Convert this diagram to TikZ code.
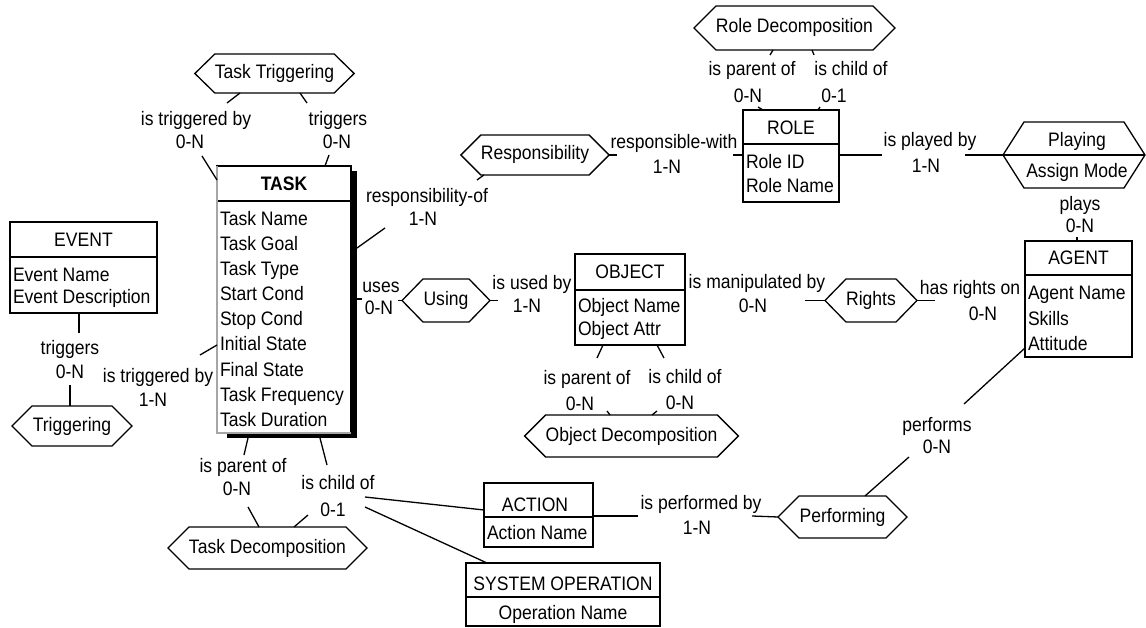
\documentclass[tikz,border=0pt]{standalone}
\usepackage{fontspec}
\setmainfont{Liberation Sans}[FakeStretch=0.9]
\usetikzlibrary{calc}

% entity box: name, centre x, centre y, width, height, y of header rule
\newcommand\entitybox[6]{%
  \node[ebox, minimum width=#4pt, minimum height=#5pt] (#1) at (#2,#3) {};
  \draw[boxline] (#1.west |- 0,#6) -- (#1.east |- 0,#6);}

% relationship hexagon: name, centre x, centre y, inner width, height, tip, text
\newcommand\relhex[7]{%
  \node[hexnode, minimum width=#4pt, minimum height=#5pt] (#1) at (#2,#3) {#7};
  \draw[boxline] (#1.north west) -- (#1.north east) -- ([xshift=#6pt]#1.east)
    -- (#1.south east) -- (#1.south west) -- ([xshift=-#6pt]#1.west) -- cycle;}

\begin{document}
\begin{tikzpicture}[x=1pt,y=-1pt,
  every node/.style={font=\fontsize{19.5}{23}\selectfont, inner sep=0pt, outer sep=0pt},
  boxline/.style={line width=1.3pt},
  conn/.style={line width=1.3pt},
  ebox/.style={draw, line width=1.3pt, fill=white},
  hexnode/.style={text height=13.5pt, text depth=3.5pt},
  hdr/.style={anchor=base},
  attr/.style={anchor=base west},
  lbl/.style={anchor=base},
]
\fill[white] (0,0) rectangle (1146,628);
\useasboundingbox (0,0) rectangle (1146,628);

% ---------------- entities ----------------
\node[fill=black, minimum width=130pt, minimum height=267pt] (taskshadow) at (292,304.5) {};
\entitybox{task}{284}{299.5}{134}{267}{201}
\draw[boxline, black!35] (task.north west) -- (task.south west) -- (task.south east);
\node[hdr, font=\fontsize{19.5}{23}\selectfont\bfseries] (taskh) at (284,191) {TASK};
\foreach \t [count=\i] in {Task Name, Task Goal, Task Type, Start Cond, Stop Cond,
    Initial State, Final State, Task Frequency, Task Duration}
  \node[attr] (task-\i) at (220,{201+25*\i}) {\t};

\entitybox{event}{83.5}{267.5}{147}{91}{257}
\node[hdr] (eventh) at (83.5,247) {EVENT};
\node[attr] (event-1) at (13,282) {Event Name};
\node[attr] (event-2) at (13,304) {Event Description};

\entitybox{role}{791}{156}{96}{92}{144}
\node[hdr] (roleh) at (791,135) {ROLE};
\node[attr] (role-1) at (746,169) {Role ID};
\node[attr] (role-2) at (746,193) {Role Name};

\entitybox{object}{630}{299.5}{110}{91}{290}
\node[hdr] (objecth) at (630,279) {OBJECT};
\node[attr] (object-1) at (578,313) {Object Name};
\node[attr] (object-2) at (578,336) {Object Attr};

\entitybox{agent}{1078.5}{299}{107}{116}{275}
\node[hdr] (agenth) at (1078.5,265) {AGENT};
\node[attr] (agent-1) at (1028,300) {Agent Name};
\node[attr] (agent-2) at (1028,326) {Skills};
\node[attr] (agent-3) at (1028,350) {Attitude};

\entitybox{action}{538.5}{515}{109}{64}{517}
\node[hdr] (actionh) at (535,511) {ACTION};
\node[attr] (action-1) at (487,539) {Action Name};

\entitybox{sysop}{563}{594.5}{194}{63}{597}
\node[hdr] (sysoph) at (563,590) {SYSTEM OPERATION};
\node[hdr] (sysop-1) at (563,619) {Operation Name};

% ---------------- relationships ----------------
\relhex{ttrig}{274.5}{73.5}{115}{39}{20}{Task Triggering}
\relhex{trig}{72}{426}{80}{40}{20}{Triggering}
\relhex{resp}{535}{155}{106}{40}{20}{Responsibility}
\relhex{rdec}{794.5}{28}{147}{44}{22}{Role Decomposition}
\relhex{play}{1074}{155}{100}{66}{21}{}
\draw[boxline] ([xshift=-21pt]play.west) -- ([xshift=21pt]play.east);
\node[lbl] (playtxt) at (1077,147) {Playing};
\node[lbl] (assigntxt) at (1077,178) {Assign Mode};
\relhex{using}{446}{300.5}{46}{43}{21}{Using}
\relhex{rights}{871}{300.5}{50}{43}{21}{Rights}
\relhex{odec}{631.5}{436}{161}{42}{21}{Object Decomposition}
\relhex{tdec}{267.5}{548}{157}{42}{21}{Task Decomposition}
\relhex{perf}{842.5}{517}{87}{42}{21}{Performing}

% ---------------- role labels ----------------
\node[lbl] (ttby) at (196,126) {is triggered by};  \node[lbl] (ttby-c) at (190,149) {0-N};
\node[lbl] (tttr) at (338,126) {triggers};         \node[lbl] (tttr-c) at (337,149) {0-N};
\node[lbl] (evtr) at (70,354) {triggers};          \node[lbl] (evtr-c) at (70,378) {0-N};
\node[lbl] (trby) at (158,382) {is triggered by};  \node[lbl] (trby-c) at (153,406) {1-N};
\node[lbl] (rspof) at (427,203) {responsibility-of}; \node[lbl] (rspof-c) at (423,226) {1-N};
\node[lbl] (rspw) at (674,149) {responsible-with}; \node[lbl] (rspw-c) at (667,174) {1-N};
\node[lbl] (rdp) at (752,76) {is parent of};       \node[lbl] (rdp-c) at (748,103) {0-N};
\node[lbl] (rdc) at (851,76) {is child of};        \node[lbl] (rdc-c) at (834,103) {0-1};
\node[lbl] (plby) at (930,147) {is played by};     \node[lbl] (plby-c) at (926,173) {1-N};
\node[lbl] (plays) at (1080,211) {plays};          \node[lbl] (plays-c) at (1080,233) {0-N};
\node[lbl] (uses) at (381,293) {uses};             \node[lbl] (uses-c) at (379,315) {0-N};
\node[lbl] (usedby) at (532,290) {is used by};     \node[lbl] (usedby-c) at (527,313) {1-N};
\node[lbl] (manip) at (757,289) {is manipulated by}; \node[lbl] (manip-c) at (753,313) {0-N};
\node[lbl] (hasr) at (970,295) {has rights on};    \node[lbl] (hasr-c) at (983,320) {0-N};
\node[lbl] (odp) at (587,384) {is parent of};      \node[lbl] (odp-c) at (580,410) {0-N};
\node[lbl] (odc) at (685,383) {is child of};       \node[lbl] (odc-c) at (680,409) {0-N};
\node[lbl] (tdp) at (243,472) {is parent of};      \node[lbl] (tdp-c) at (237,495) {0-N};
\node[lbl] (tdc) at (338,489) {is child of};       \node[lbl] (tdc-c) at (333,516) {0-1};
\node[lbl] (pfby) at (701,509) {is performed by};  \node[lbl] (pfby-c) at (697,534) {1-N};
\node[lbl] (pfs) at (937,431) {performs};          \node[lbl] (pfs-c) at (937,453) {0-N};

% ---------------- free ends of the connectors ----------------
\coordinate (k1) at (227,103);  \coordinate (k2) at (202,156);
\coordinate (k3) at (307,103);  \coordinate (k4) at (329,155);
\coordinate (k5) at (79,333);   \coordinate (k6) at (70,385);
\coordinate (k7) at (200,355);
\coordinate (k8) at (385,228);  \coordinate (k9) at (477,180);
\coordinate (k10) at (617,155); \coordinate (k11) at (733,155);
\coordinate (k12) at (770,55);  \coordinate (k13) at (758,107);
\coordinate (k14) at (814,55);  \coordinate (k15) at (820,107);
\coordinate (k16) at (882,155); \coordinate (k17) at (965,155);
\coordinate (k18) at (1077,237);
\coordinate (k19) at (362,299); \coordinate (k20) at (398,300.5);
\coordinate (k21) at (498,300.5);
\coordinate (k22) at (805,300.5);
\coordinate (k23) at (935,300.5);
\coordinate (k24) at (597,358); \coordinate (k25) at (607,411);
\coordinate (k26) at (664,358); \coordinate (k27) at (657,411);
\coordinate (k28) at (244,455); \coordinate (k29) at (248,507);
\coordinate (k30) at (327,465); \coordinate (k31) at (308,515);
\coordinate (k32) at (365,497); \coordinate (k33) at (365,507);
\coordinate (k34) at (638,516); \coordinate (k35) at (752,516);
\coordinate (k36) at (964,404); \coordinate (k37) at (909,457);

% ---------------- connectors ----------------
\draw[conn] (ttrig.south -| 240,0) -- (k1);
\draw[conn] (k2) -- (task.west |- 0,180);
\draw[conn] (ttrig.south -| 300,0) -- (k3);
\draw[conn] (k4) -- (task.north -| 325,0);
\draw[conn] (event.south -| 79,0) -- (k5);
\draw[conn] (k6) -- (trig.north -| 70,0);
\draw[conn] (task.west |- 0,345) -- (k7);
\draw[conn] (taskshadow.east |- 0,248) -- (k8);
\draw[conn] ([xshift=3pt]resp.south west) -- (k9);
\draw[conn] ([xshift=20pt]resp.east) -- (k10);
\draw[conn] (k11) -- (role.west |- 0,155);
\draw[conn] (rdec.south -| 773,0) -- (k12);
\draw[conn] (k13) -- (role.north -| 763,0);
\draw[conn] (rdec.south -| 812,0) -- (k14);
\draw[conn] (k15) -- (role.north -| 818,0);
\draw[conn] (role.east |- 0,155) -- (k16);
\draw[conn] (k17) -- ([xshift=-21pt]play.west);
\draw[conn] (k18) -- (agent.north -| 1077,0);
\draw[conn] (taskshadow.east |- 0,299) -- (k19);
\draw[conn] (k20) -- ([xshift=-21pt]using.west);
\draw[conn] ([xshift=21pt]using.east) -- (k21);
\draw[conn] (k22) -- ([xshift=-21pt]rights.west);
\draw[conn] ([xshift=21pt]rights.east) -- (k23);
\draw[conn] (object.south -| 603,0) -- (k24);
\draw[conn] (k25) -- (odec.north -| 610,0);
\draw[conn] (object.south -| 657,0) -- (k26);
\draw[conn] (k27) -- (odec.north -| 652,0);
\draw[conn] (taskshadow.south -| 248,0) -- (k28);
\draw[conn] (k29) -- (tdec.north -| 259,0);
\draw[conn] (taskshadow.south -| 320,0) -- (k30);
\draw[conn] (k31) -- (tdec.north -| 294,0);
\draw[conn] (k32) -- (action.west |- 0,510);
\draw[conn] (k33) -- (sysop.north -| 487,0);
\draw[conn] (action.east |- 0,516) -- (k34);
\draw[conn] (k35) -- ([xshift=-21pt]perf.west);
\draw[conn] (agent.west |- 0,348) -- (k36);
\draw[conn] (k37) -- (perf.north -| 865,0);
\end{tikzpicture}
\end{document}
